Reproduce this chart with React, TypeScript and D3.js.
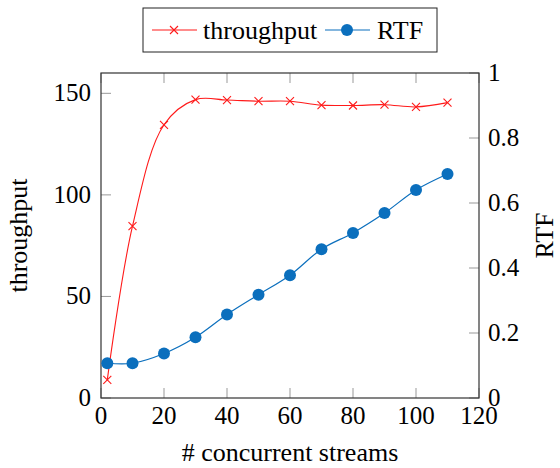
import { useEffect, useRef } from "react";
import * as d3 from "d3";

const streams = [2, 10, 20, 30, 40, 50, 60, 70, 80, 90, 100, 110];
const throughput = [8.9, 84.6, 134.5, 146.9, 146.7, 146.1, 146.1, 144.2, 144.0, 144.4, 143.3, 145.4];
const rtf = [0.107, 0.107, 0.137, 0.187, 0.257, 0.318, 0.378, 0.458, 0.508, 0.569, 0.64, 0.689];

const xTicks = [0, 20, 40, 60, 80, 100, 120];
const leftTicks = [0, 50, 100, 150];
const rightTicks = [0, 0.2, 0.4, 0.6, 0.8, 1];

const RED = "#ff1a1a";
const BLUE = "#0b6fbd";
const FONT = "Liberation Serif, DejaVu Serif, Times New Roman, serif";

// plot box in page pixels
const box = { left: 101, right: 479, top: 73, bottom: 398 };

export default function App() {
  const ref = useRef<SVGSVGElement>(null);

  useEffect(() => {
    const svg = d3.select(ref.current);
    svg.selectAll("*").remove();

    const x = d3.scaleLinear().domain([0, 120]).range([box.left, box.right]);
    const yL = d3.scaleLinear().domain([0, 160]).range([box.bottom, box.top]);
    const yR = d3.scaleLinear().domain([0, 1]).range([box.bottom, box.top]);

    const tickLen = 10;
    const tickColor = "#999";

    const text = (g: any, s: string | number, px: number, py: number, size: number, anchor = "start") =>
      g.append("text").attr("x", px).attr("y", py)
        .attr("text-anchor", anchor).style("font-family", FONT)
        .style("font-size", `${size}px`).text(s);

    // x ticks bottom + top (inward)
    xTicks.forEach((t) => {
      svg.append("line").attr("x1", x(t)).attr("x2", x(t))
        .attr("y1", box.bottom).attr("y2", box.bottom - tickLen)
        .attr("stroke", tickColor);
      svg.append("line").attr("x1", x(t)).attr("x2", x(t))
        .attr("y1", box.top).attr("y2", box.top + tickLen)
        .attr("stroke", tickColor);
      text(svg, t, x(t), box.bottom + 26, 25, "middle");
    });

    // left y ticks
    leftTicks.forEach((t) => {
      svg.append("line").attr("x1", box.left).attr("x2", box.left + tickLen)
        .attr("y1", yL(t)).attr("y2", yL(t)).attr("stroke", tickColor);
      text(svg, t, box.left - 10, yL(t) + 8, 25, "end");
    });

    // right y ticks
    rightTicks.forEach((t) => {
      svg.append("line").attr("x1", box.right).attr("x2", box.right - tickLen)
        .attr("y1", yR(t)).attr("y2", yR(t)).attr("stroke", tickColor);
      text(svg, t, box.right + 9, yR(t) + 8, 25, "start");
    });

    // frame
    svg.append("rect")
      .attr("x", box.left).attr("y", box.top)
      .attr("width", box.right - box.left).attr("height", box.bottom - box.top)
      .attr("fill", "none").attr("stroke", "#333").attr("stroke-width", 1.2);

    // throughput
    const lineT = d3.line<number>()
      .x((_, i) => x(streams[i]))
      .y((d) => yL(d))
      .curve(d3.curveCatmullRom);
    svg.append("path").attr("d", lineT(throughput)!)
      .attr("fill", "none").attr("stroke", RED).attr("stroke-width", 1.1);
    const cross = (g: any, cx: number, cy: number, s: number) => {
      g.append("path")
        .attr("d", `M${cx - s},${cy - s}L${cx + s},${cy + s}M${cx - s},${cy + s}L${cx + s},${cy - s}`)
        .attr("stroke", RED).attr("stroke-width", 1.1).attr("fill", "none");
    };
    const mT = svg.append("g");
    throughput.forEach((d, i) => cross(mT, x(streams[i]), yL(d), 4));

    // RTF
    const lineR = d3.line<number>()
      .x((_, i) => x(streams[i]))
      .y((d) => yR(d))
      .curve(d3.curveCatmullRom);
    svg.append("path").attr("d", lineR(rtf)!)
      .attr("fill", "none").attr("stroke", BLUE).attr("stroke-width", 1.2);
    svg.append("g").selectAll("circle").data(rtf).join("circle")
      .attr("cx", (_, i) => x(streams[i])).attr("cy", (d) => yR(d))
      .attr("r", 6).attr("fill", BLUE);

    // axis labels
    text(svg, "# concurrent streams", (box.left + box.right) / 2, 461, 26, "middle");
    text(svg.append("g").attr("transform", `translate(27,${(box.top + box.bottom) / 2}) rotate(-90)`),
      "throughput", 0, 0, 26, "middle");
    text(svg.append("g").attr("transform", `translate(553,${(box.top + box.bottom) / 2}) rotate(-90)`),
      "RTF", 0, 0, 26, "middle");

    // legend
    const lg = svg.append("g");
    lg.append("rect").attr("x", 143).attr("y", 8).attr("width", 294).attr("height", 44)
      .attr("fill", "white").attr("stroke", "#222").attr("stroke-width", 1);
    lg.append("line").attr("x1", 152).attr("x2", 197).attr("y1", 30).attr("y2", 30)
      .attr("stroke", RED).attr("stroke-width", 1.1);
    cross(lg, 174, 30, 4);
    text(lg, "throughput", 203, 39, 26);
    lg.append("line").attr("x1", 325).attr("x2", 370).attr("y1", 30).attr("y2", 30)
      .attr("stroke", BLUE).attr("stroke-width", 1.2);
    lg.append("circle").attr("cx", 347).attr("cy", 30).attr("r", 6).attr("fill", BLUE);
    text(lg, "RTF", 377, 39, 26);
  }, []);

  return (
    <svg
      ref={ref}
      width={560}
      height={468}
      style={{ position: "absolute", left: 0, top: 0, background: "white" }}
    />
  );
}
